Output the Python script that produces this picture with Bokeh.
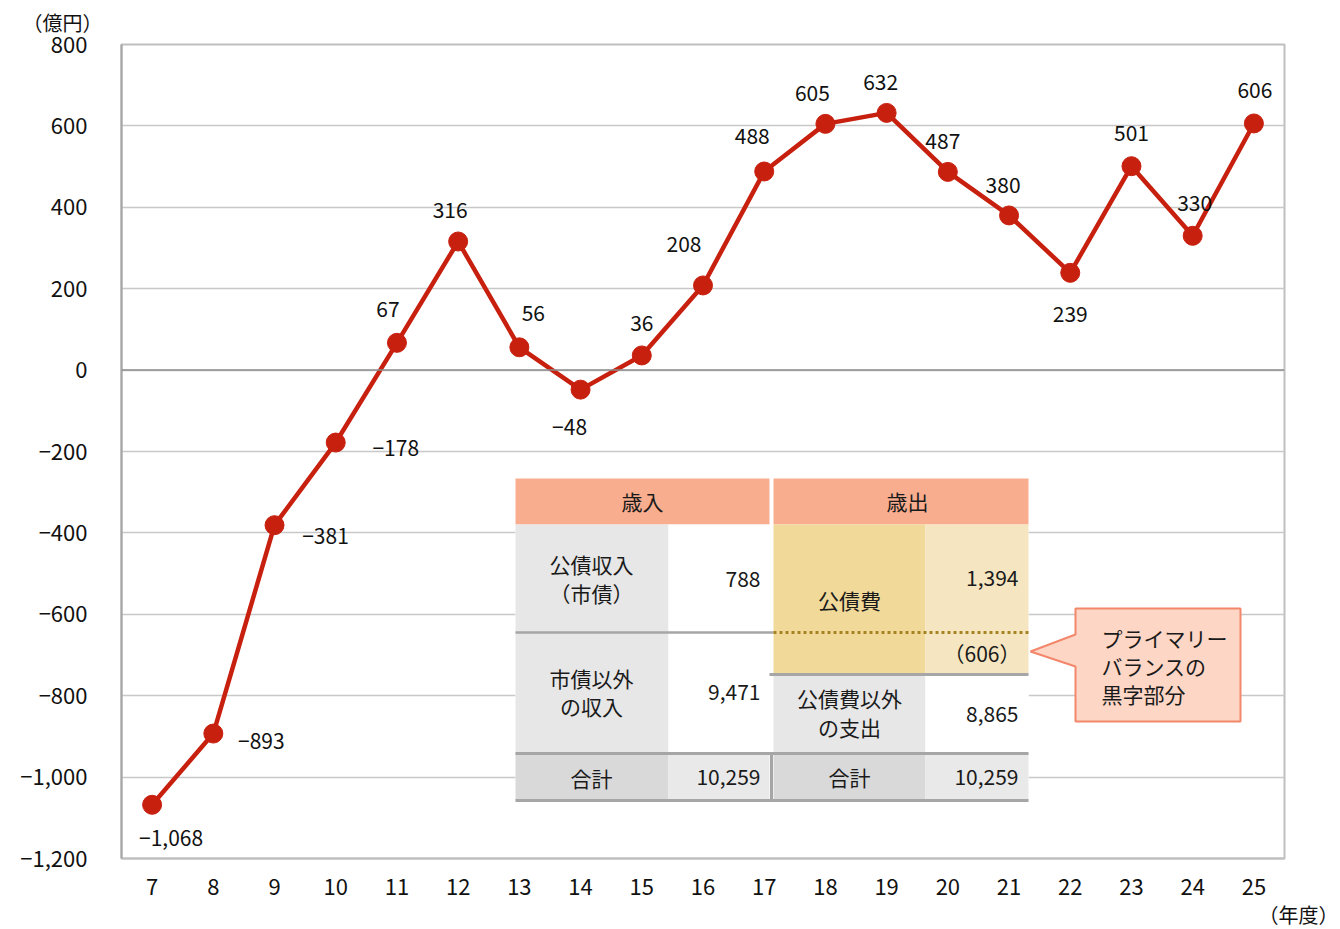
from bokeh.plotting import figure
from bokeh.models import Range1d, FixedTicker, Span, Title
from bokeh.core.properties import value
from bokeh.embed import file_html
from bokeh.resources import INLINE

# ---------------- data ----------------
years = [7, 8, 9, 10, 11, 12, 13, 14, 15, 16, 17, 18, 19, 20, 21, 22, 23, 24, 25]
balance = [-1068, -893, -381, -178, 67, 316, 56, -48, 36, 208, 488, 605, 632,
           487, 380, 239, 501, 330, 606]
y_ticks = [-1200, -1000, -800, -600, -400, -200, 0, 200, 400, 600, 800]
y_tick_labels = ["−1,200", "−1,000", "−800", "−600", "−400", "−200",
                 "0", "200", "400", "600", "800"]
y_unit = "（億円）"
x_unit = "（年度）"

rev_header = "歳入"
exp_header = "歳出"
rev_labels = [["公債収入", "（市債）"], ["市債以外", "の収入"], ["合計"]]
rev_values = ["788", "9,471", "10,259"]
exp_labels = [["公債費"], ["公債費以外", "の支出"], ["合計"]]
exp_values = ["1,394", "8,865", "10,259"]
primary_surplus = "（606）"
callout_lines = ["プライマリー", "バランスの", "黒字部分"]

# label offsets (pixels) relative to each point: (dx, dy), screen y down
label_offsets = [(19, 33), (48, 7), (51, 11), (60, 5), (-9, -34), (-8, -31),
                 (14, -34), (-11, 37), (0, -32), (-19, -41), (-12, -35),
                 (-13, -31), (-6, -31), (-5, -31), (-6, -30), (0, 41),
                 (0, -33), (2, -33), (1, -33)]

FONT = "Noto Sans CJK JP"
RED = "#C8200F"


def fmt(v):
    s = f"{abs(v):,}"
    return ("−" + s) if v < 0 else s


W, H = 1340, 929
FL, FR, FT, FB = 121, 1284, 44, 858
XMIN, XMAX = 6.5, 25.5
YMIN, YMAX = -1200, 800

p = figure(width=W, height=H, x_range=Range1d(XMIN, XMAX), y_range=Range1d(YMIN, YMAX),
           output_backend="svg", toolbar_location=None,
           min_border_left=FL, min_border_right=W - FR,
           min_border_top=FT, min_border_bottom=H - FB)
p.background_fill_color = "white"
p.border_fill_color = "white"
p.outline_line_color = "#BFBFBF"
p.outline_line_width = 2

# axes
p.xaxis.ticker = FixedTicker(ticks=years)
p.yaxis.ticker = FixedTicker(ticks=y_ticks)
p.yaxis.major_label_overrides = {t: l for t, l in zip(y_ticks, y_tick_labels)}
for ax in (p.xaxis, p.yaxis):
    ax.major_tick_line_color = None
    ax.minor_tick_line_color = None
    ax.major_label_text_font = FONT
    ax.major_label_text_font_size = "22px"
    ax.major_label_text_color = "#111111"
p.yaxis.axis_line_color = "#A6A6A6"
p.yaxis.axis_line_width = 2
p.yaxis.major_label_standoff = 28
p.xaxis.axis_line_color = "#BFBFBF"
p.xaxis.axis_line_width = 2
p.xaxis.major_label_standoff = 14

p.xgrid.grid_line_color = None
p.ygrid.grid_line_color = "#C8C8C8"
p.ygrid.grid_line_width = 1.5

p.add_layout(Span(location=0, dimension="width", line_color="#8C8C8C", line_width=1.5))

# unit labels as titles outside the frame
p.add_layout(Title(text=y_unit, align="left", offset=-99, standoff=13, vertical_align="middle",
                   text_font=FONT, text_font_size="20px", text_font_style="normal",
                   text_color="#111111"), "above")
p.add_layout(Title(text=x_unit, align="right", offset=-54, standoff=0,
                   text_font=FONT, text_font_size="20px", text_font_style="normal",
                   text_color="#111111"), "below")


# pixel -> data helpers for overlay annotations
def px2x(px):
    return XMIN + (px - FL) * (XMAX - XMIN) / (FR - FL)


def px2y(py):
    return YMAX - (py - FT) * (YMAX - YMIN) / (FB - FT)


# series
p.line(years, balance, line_color=RED, line_width=4.5)
p.scatter(years, balance, size=19, fill_color=RED, line_color=RED)

p.text(x=years, y=balance, text=[fmt(v) for v in balance],
       x_offset=[o[0] for o in label_offsets], y_offset=[o[1] for o in label_offsets],
       text_align="center", text_baseline="middle",
       text_font=value(FONT), text_font_size="21px", text_color="#111111")


# ---------------- table overlay ----------------
def cell(l, r, t, b, color):
    p.quad(left=px2x(l), right=px2x(r), top=px2y(t), bottom=px2y(b),
           fill_color=color, line_color=None)


def hline(x0, x1, y, color="#A6A6A6", w=3, dash="solid"):
    p.line([px2x(x0), px2x(x1)], [px2y(y), px2y(y)], line_color=color, line_width=w,
           line_dash=dash)


def txt(px, py, s, align="center", size="21px"):
    p.text(x=[px2x(px)], y=[px2y(py)], text=[s], text_align=align, text_baseline="middle",
           text_font=value(FONT), text_font_size=size, text_color="#1A1A1A")


def lines(px, pys, items, align="center"):
    for py, s in zip(pys, items):
        txt(px, py, s, align)


cell(515, 1028, 478, 801, "white")
cell(515, 769, 478, 524, "#F9AD8F")
cell(773, 1028, 478, 524, "#F9AD8F")
cell(515, 668, 524, 752, "#E7E7E7")
cell(668, 769, 524, 752, "white")
cell(515, 668, 752, 800, "#D9D9D9")
cell(668, 769, 752, 800, "#E9E9E9")
cell(773, 925, 524, 673, "#F0D999")
cell(925, 1028, 524, 673, "#F5E6C1")
cell(773, 925, 673, 752, "#E7E7E7")
cell(925, 1028, 673, 752, "white")
cell(773, 925, 752, 800, "#D9D9D9")
cell(925, 1028, 752, 800, "#E9E9E9")

hline(515, 773, 632, w=2.5)
hline(773, 1028, 632, color="#A68424", w=3, dash="3 3")
hline(769, 1028, 674, w=3)
hline(515, 1028, 753, w=3)
hline(515, 1028, 800, w=3)
p.line([px2x(771), px2x(771)], [px2y(752), px2y(800)], line_color="#A6A6A6", line_width=3)

txt(642, 500, rev_header)
txt(907, 500, exp_header)

lines(591, [563, 592], rev_labels[0])
lines(591, [677, 705], rev_labels[1])
lines(591, [777], rev_labels[2])
txt(760, 578, rev_values[0], align="right")
txt(760, 691, rev_values[1], align="right")
txt(760, 776, rev_values[2], align="right")

lines(849, [599], exp_labels[0])
lines(849, [697, 726], exp_labels[1])
lines(849, [776], exp_labels[2])
txt(1018, 577, exp_values[0], align="right")
txt(1020, 652, primary_surplus, align="right")
txt(1018, 713, exp_values[1], align="right")
txt(1018, 776, exp_values[2], align="right")

# callout
cx = [1075, 1240, 1240, 1075, 1075, 1030, 1075]
cy = [608, 608, 721, 721, 666, 651, 634]
p.patch([px2x(v) for v in cx], [px2y(v) for v in cy], fill_color="#FDD6C5",
        line_color="#F2876B", line_width=2)
for py, s in zip([637, 665, 693], callout_lines):
    txt(1101, py, s, align="left", size="21px")

open("out.html", "w").write(file_html(p, INLINE))
